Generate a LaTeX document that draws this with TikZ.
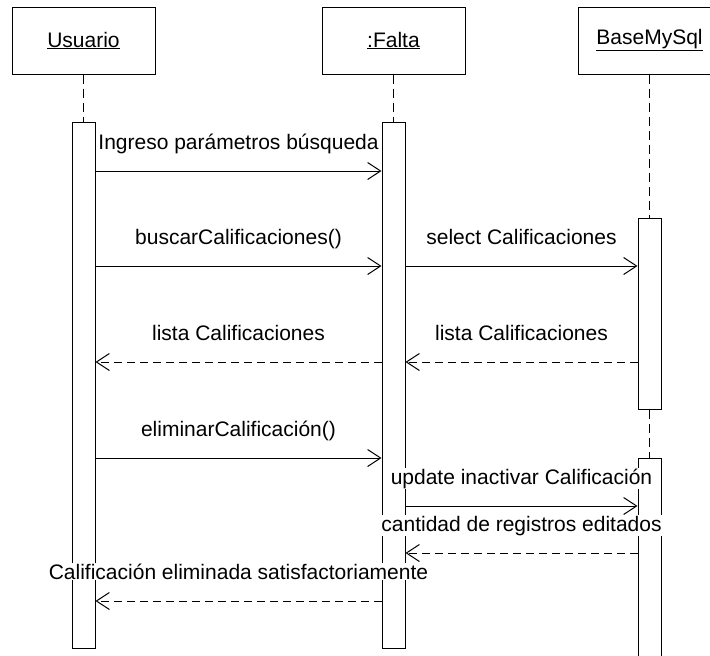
\documentclass[tikz,border=0pt]{standalone}
\usepackage{fontspec}
\setmainfont{Liberation Sans}
\usetikzlibrary{positioning,arrows.meta}

\begin{document}
\begin{tikzpicture}[x=1pt,y=-1pt,
    objbox/.style={draw,line width=1pt,minimum width=143pt,minimum height=67pt,
      inner sep=0pt,font=\fontsize{21}{25}\selectfont},
    actbar/.style={draw,line width=1pt,fill=white,minimum width=23pt,
      inner sep=0pt,anchor=north},
    lifeline/.style={line width=1pt,dash pattern=on 9pt off 5pt},
    call/.style={line width=1pt,-{Straight Barb[length=13pt,width=17pt]}},
    reply/.style={call,dash pattern=on 8pt off 5pt},
    msglbl/.style={anchor=base,yshift=22pt,inner sep=0.5pt,fill=white,
      font=\fontsize{21}{25}\selectfont}
  ]
    \useasboundingbox (0,0) rectangle (710,656);
    \clip (0,0) rectangle (710,656);
    \node[objbox] (usr) at (83.5,40.5) {\underline{Usuario}};
    \node[objbox,right=166pt of usr] (fal) {\underline{:Falta}};
    \node[objbox,right=112pt of fal] (bd) {\underline{BaseMySql}};
    \node[actbar,minimum height=526pt] (usrA) at (usr.south |- 0,122) {};
    \node[actbar,minimum height=526pt] (falA) at (fal.south |- 0,122) {};
    \node[actbar,minimum height=191pt] (bdA1) at (bd.south |- 0,218) {};
    \node[actbar,minimum height=222pt] (bdA2) at (bd.south |- 0,458) {};
    \draw[lifeline] (usr) -- (usrA);
    \draw[lifeline] (fal) -- (falA);
    \draw[lifeline] (bd) -- (bdA1);
    \draw[lifeline] (bdA1) -- (bdA2);
    % message rows
    \coordinate (r1) at (0,171);
    \coordinate (r2) at (0,266);
    \coordinate (r3) at (0,362);
    \coordinate (r4) at (0,458);
    \coordinate (r5) at (0,506);
    \coordinate (r6) at (0,553);
    \coordinate (r7) at (0,601);
    \draw[call] (usrA.east |- r1) -- node[msglbl] {Ingreso parámetros búsqueda} (falA.west |- r1);
    \draw[call] (usrA.east |- r2) -- node[msglbl] {buscarCalificaciones()} (falA.west |- r2);
    \draw[call] (falA.east |- r2) -- node[msglbl] {select Calificaciones} (bdA1.west |- r2);
    \draw[reply] (bdA1.west |- r3) -- node[msglbl] {lista Calificaciones} (falA.east |- r3);
    \draw[reply] (falA.west |- r3) -- node[msglbl] {lista Calificaciones} (usrA.east |- r3);
    \draw[call] (usrA.east |- r4) -- node[msglbl] {eliminarCalificación()} (falA.west |- r4);
    \draw[call] (falA.east |- r5) -- node[msglbl] {update inactivar Calificación} (bdA2.west |- r5);
    \draw[reply] (bdA2.west |- r6) -- node[msglbl] {cantidad de registros editados} (falA.east |- r6);
    \draw[reply] (falA.west |- r7) -- node[msglbl] {Calificación eliminada satisfactoriamente} (usrA.east |- r7);
  \end{tikzpicture}
\end{document}
